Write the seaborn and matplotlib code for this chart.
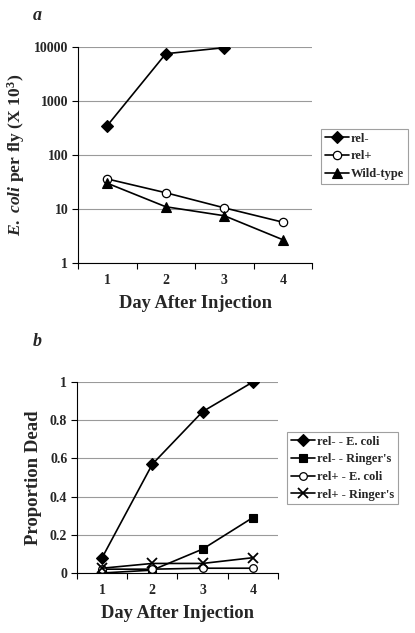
import matplotlib
matplotlib.use("Agg")
import matplotlib.pyplot as plt
import seaborn as sns
import pandas as pd
from matplotlib.ticker import FixedLocator, FuncFormatter
from matplotlib.lines import Line2D

# ---- data ----
days = [1, 2, 3, 4]
a_rel_minus = [350, 7500, 9700]
a_rel_plus = [36, 20, 10.5, 5.7]
a_wild = [30, 11, 7.5, 2.7]
a_labels = ["rel-", "rel+", "Wild-type"]
a_yticks = [1, 10, 100, 1000, 10000]

b_relm_ecoli = [0.08, 0.57, 0.845, 1.0]
b_relm_ringer = [0.0, 0.015, 0.125, 0.29]
b_relp_ecoli = [0.02, 0.02, 0.025, 0.025]
b_relp_ringer = [0.025, 0.05, 0.05, 0.08]
b_labels = ["rel- - E. coli", "rel- - Ringer's", "rel+ - E. coli", "rel+ - Ringer's"]
b_yticks = [0, 0.2, 0.4, 0.6, 0.8, 1.0]

sns.set_theme(style="white")
plt.rcParams["font.family"] = ["Liberation Serif", "DejaVu Serif"]
plt.rcParams["font.weight"] = "bold"
plt.rcParams["mathtext.fontset"] = "custom"
plt.rcParams["mathtext.rm"] = "Liberation Serif:bold"
plt.rcParams["mathtext.it"] = "Liberation Serif:italic:bold"
plt.rcParams["mathtext.bf"] = "Liberation Serif:bold"

fig = plt.figure(figsize=(4.15, 6.33), dpi=100)
axa = fig.add_axes([0.188, 0.5845, 0.564, 0.3413])
axb = fig.add_axes([0.1855, 0.0948, 0.4843, 0.3017])

common = dict(color="black", linewidth=1.2, markeredgecolor="black", legend=False)

def draw(ax, x, y, marker, ms, mfc, mew=0.8):
    df = pd.DataFrame({"day": x, "val": y})
    sns.lineplot(data=df, x="day", y="val", ax=ax, marker=marker, markersize=ms,
                 markerfacecolor=mfc, markeredgewidth=mew, **common)

# panel a
draw(axa, days[:len(a_rel_minus)], a_rel_minus, "D", 6.5, "black")
draw(axa, days, a_rel_plus, "o", 6, "white", 0.9)
draw(axa, days, a_wild, "^", 7, "black")
axa.set_yscale("log")
axa.set_ylim(1, 10000)
axa.yaxis.set_major_locator(FixedLocator(a_yticks))
axa.yaxis.set_minor_locator(FixedLocator([]))
axa.yaxis.set_major_formatter(FuncFormatter(lambda v, p: f"{int(round(v))}"))
axa.set_ylabel(r"$\mathit{E.\ coli}\ \mathrm{per\ fly\ (X\ 10^{3})}$", fontsize=12.6,
               fontweight="bold", labelpad=5)

# panel b
draw(axb, days, b_relm_ecoli, "D", 6.5, "black")
draw(axb, days, b_relm_ringer, "s", 5.5, "black")
draw(axb, days, b_relp_ecoli, "o", 5.5, "white", 0.9)
draw(axb, days, b_relp_ringer, "x", 7, "black", 1.3)
axb.set_ylim(0, 1)
axb.yaxis.set_major_locator(FixedLocator(b_yticks))
axb.yaxis.set_major_formatter(FuncFormatter(lambda v, p: f"{v:g}"))
axb.set_ylabel("Proportion Dead", fontsize=13.5, fontweight="bold", labelpad=6)

for ax in (axa, axb):
    ax.set_xlim(0.5, 4.5)
    ax.set_xticks(days)
    ax.xaxis.set_minor_locator(FixedLocator([0.5, 1.5, 2.5, 3.5, 4.5]))
    ax.tick_params(axis="x", which="major", length=0, pad=8, labelsize=10)
    ax.tick_params(axis="x", which="minor", length=4, width=0.8, color="black", bottom=True, direction="out")
    ax.tick_params(axis="y", which="major", length=4, width=0.8, color="black", left=True, direction="out", labelsize=10, pad=3)
    for lab in ax.get_xticklabels() + ax.get_yticklabels():
        lab.set_fontweight("bold")
    ax.grid(axis="y", color="#9a9a9a", linewidth=0.8)
    ax.set_axisbelow(True)
    ax.spines["top"].set_visible(False)
    ax.spines["right"].set_visible(False)
    for s in ("left", "bottom"):
        ax.spines[s].set_color("black")
        ax.spines[s].set_linewidth(0.8)
    ax.set_xlabel("Day After Injection", fontsize=13.3, fontweight="bold", labelpad=6)

# legends
def handle(marker, ms, mfc, mew=0.8):
    return Line2D([], [], color="black", linewidth=1.2, marker=marker, markersize=ms,
                  markerfacecolor=mfc, markeredgecolor="black", markeredgewidth=mew)

leg_kw = dict(loc="upper left", fontsize=9, frameon=True, fancybox=False, edgecolor="#888888",
              handlelength=1.9, handletextpad=0.2, borderpad=0.3, labelspacing=0.45,
              borderaxespad=0)

ha = [handle("D", 6, "black"), handle("o", 6, "white", 0.9), handle("^", 7, "black")]
lega = fig.legend(ha, a_labels, bbox_to_anchor=(321 / 415, 1 - 129 / 633), **leg_kw)
lega.get_frame().set_linewidth(0.8)
for t in lega.get_texts():
    t.set_fontweight("bold")

hb = [handle("D", 6, "black"), handle("s", 5.5, "black"), handle("o", 5.5, "white", 0.9),
      handle("x", 7, "black", 1.3)]
legb = fig.legend(hb, b_labels, bbox_to_anchor=(287 / 415, 1 - 432 / 633), **leg_kw)
legb.get_frame().set_linewidth(0.8)
for t in legb.get_texts():
    t.set_fontweight("bold")

fig.text(33 / 415, 1 - 15 / 633, "a", fontsize=13, fontweight="bold", style="italic", va="center")
fig.text(33 / 415, 1 - 341 / 633, "b", fontsize=13, fontweight="bold", style="italic", va="center")

fig.savefig("out.png", dpi=100)
